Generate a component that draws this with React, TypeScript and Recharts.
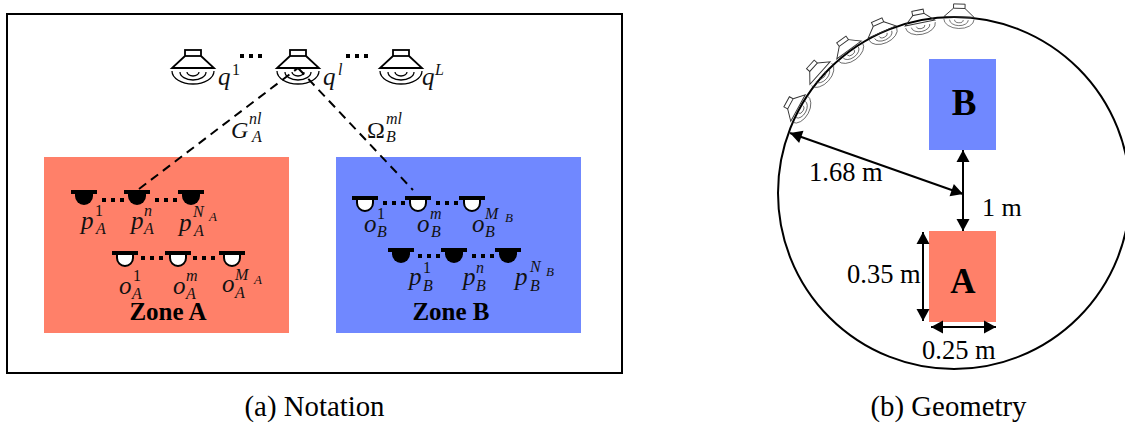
import { ReferenceArea, ReferenceDot, ReferenceLine, Scatter, ScatterChart, XAxis, YAxis } from 'recharts';

const WIDTH = 1125;
const HEIGHT = 428;
const SERIF = '"Liberation Serif", serif';

// the whole figure is plotted in a 1125 x 428 data space, y going down
const FRAME = { x1: 7, x2: 622, y1: 14, y2: 373 };
const ZONES = [
  { x1: 44, x2: 289, y1: 157, y2: 333, fill: '#ff8069' },
  { x1: 336, x2: 581, y1: 157, y2: 333, fill: '#7088ff' },
  { x1: 929, x2: 996, y1: 59, y2: 150, fill: '#7088ff' },
  { x1: 929, x2: 996, y1: 231, y2: 322, fill: '#ff8069' },
];
const RING = { x: 954, y: 193 };

const TOP_SPEAKERS = [
  { x: 193, y: 68 },
  { x: 298, y: 68 },
  { x: 401, y: 68 },
];
const RING_SPEAKERS = [
  { x: 959, y: 17 },
  { x: 920, y: 23 },
  { x: 882, y: 32 },
  { x: 849, y: 50 },
  { x: 820, y: 73 },
  { x: 798, y: 108 },
];
const FILLED_MICS = [
  { x: 84, y: 192 },
  { x: 137, y: 192 },
  { x: 191, y: 192 },
  { x: 401, y: 250 },
  { x: 454, y: 250 },
  { x: 508, y: 250 },
];
const OPEN_MICS = [
  { x: 125, y: 253 },
  { x: 178, y: 253 },
  { x: 232, y: 253 },
  { x: 365, y: 198 },
  { x: 418, y: 198 },
  { x: 472, y: 198 },
];

const DOT_RUNS = [
  [240, 56, 264, 56],
  [346, 56, 370, 56],
  [102, 200, 127, 200],
  [155, 200, 180, 200],
  [141, 258, 167, 258],
  [193, 258, 218, 258],
  [383, 203, 407, 203],
  [436, 203, 460, 203],
  [418, 256, 443, 256],
  [472, 256, 496, 256],
];
const DASHED_LINKS = [
  [139, 189, 298, 68],
  [298, 68, 413, 190],
];
const ARROWS = [
  [790, 133, 963, 194],
  [963, 150, 963, 231],
  [923, 232, 923, 321],
  [931, 327, 996, 327],
];

// each label: base letter, then its scripts as [x, y, text, level], level 1 = script, 2 = script of a script
const MATH_LABELS = [
  { x: 218, y: 85, text: 'q', scripts: [[232, 75, '1', 1]] },
  { x: 323, y: 85, text: 'q', scripts: [[338, 75, 'l', 1]] },
  { x: 422, y: 85, text: 'q', scripts: [[435, 75, 'L', 1]] },
  { x: 231, y: 138, text: 'G', scripts: [[249, 124, 'nl', 1], [252, 142, 'A', 1]] },
  { x: 367, y: 138, text: 'Ω', scripts: [[386, 124, 'ml', 1], [386, 142, 'B', 1]] },

  { x: 81, y: 229, text: 'p', scripts: [[95, 216, '1', 1], [96, 234, 'A', 1]] },
  { x: 131, y: 229, text: 'p', scripts: [[144, 216, 'n', 1], [144, 234, 'A', 1]] },
  { x: 179, y: 231, text: 'p', scripts: [[193, 217, 'N', 1], [209, 221, 'A', 2], [194, 236, 'A', 1]] },

  { x: 119, y: 294, text: 'o', scripts: [[133, 281, '1', 1], [132, 299, 'A', 1]] },
  { x: 173, y: 294, text: 'o', scripts: [[186, 281, 'm', 1], [186, 299, 'A', 1]] },
  { x: 222, y: 292, text: 'o', scripts: [[235, 280, 'M', 1], [254, 284, 'A', 2], [235, 298, 'A', 1]] },

  { x: 364, y: 232, text: 'o', scripts: [[377, 219, '1', 1], [377, 237, 'B', 1]] },
  { x: 417, y: 232, text: 'o', scripts: [[430, 219, 'm', 1], [431, 237, 'B', 1]] },
  { x: 472, y: 232, text: 'o', scripts: [[485, 219, 'M', 1], [505, 222, 'B', 2], [485, 237, 'B', 1]] },

  { x: 409, y: 285, text: 'p', scripts: [[423, 273, '1', 1], [423, 291, 'B', 1]] },
  { x: 463, y: 285, text: 'p', scripts: [[476, 273, 'n', 1], [476, 291, 'B', 1]] },
  { x: 515, y: 285, text: 'p', scripts: [[530, 272, 'N', 1], [546, 276, 'B', 2], [530, 291, 'B', 1]] },
];

const PLAIN_LABELS = [
  { x: 168, y: 320, text: 'Zone A', size: 25, bold: true, anchor: 'middle' },
  { x: 451, y: 320, text: 'Zone B', size: 25, bold: true, anchor: 'middle' },
  { x: 964, y: 115, text: 'B', size: 37, bold: true, anchor: 'middle' },
  { x: 963, y: 293, text: 'A', size: 35, bold: true, anchor: 'middle' },
  { x: 809, y: 181, text: '1.68 m', size: 26.5, anchor: 'start' },
  { x: 982, y: 216, text: '1 m', size: 26, anchor: 'start' },
  { x: 847, y: 283, text: '0.35 m', size: 26.5, anchor: 'start' },
  { x: 922, y: 359, text: '0.25 m', size: 26.5, anchor: 'start' },
  { x: 314.5, y: 416, text: '(a) Notation', size: 28.8, anchor: 'middle' },
  { x: 948.5, y: 416, text: '(b) Geometry', size: 28.8, anchor: 'middle' },
];

const ringAngle = (p: { x: number; y: number }) =>
  (Math.atan2(p.x - RING.x, RING.y - p.y) * 180) / Math.PI;

const speakerShape = (scale: number, color: string, width: number) => (props: any) => {
  const { cx, cy, payload } = props;
  const angle = scale < 1 ? ringAngle(payload) : 0;
  return (
    <g
      transform={`translate(${cx} ${cy}) rotate(${angle}) scale(${scale})`}
      fill="none"
      stroke={color}
      strokeWidth={width}
    >
      <rect x={-8} y={-18} width={16} height={6} />
      <path d="M-8 -12 L-21 0 L21 0 L8 -12" />
      <g strokeWidth={width * 0.7}>
        <path d="M-21 3 A21 13 0 0 0 21 3" />
        <path d="M-13 4 A13 8 0 0 0 13 4" />
        <path d="M-6 4 A6 4 0 0 0 6 4" />
      </g>
    </g>
  );
};

const filledMic = ({ cx, cy }: any) => (
  <g transform={`translate(${cx} ${cy})`}>
    <path d="M-9 0 L-9 4 A9 9 0 0 0 9 4 L9 0 Z" fill="#000" />
    <rect x={-13} y={-2} width={26} height={4} fill="#000" />
  </g>
);

const openMic = ({ cx, cy }: any) => (
  <g transform={`translate(${cx} ${cy})`}>
    <path d="M-8 0 L-8 5 A8 8 0 0 0 8 5 L8 0 Z" fill="#fff" stroke="#000" strokeWidth={2} />
    <rect x={-13} y={-2} width={26} height={4} fill="#000" />
  </g>
);

const mathLabel = ({ cx, cy, payload }: any) => {
  const capital = payload.text === 'G' || payload.text === 'Ω';
  return (
    <text x={cx} y={cy} fontFamily={SERIF} fontSize={capital ? 24 : 25} fontStyle="italic" fill="#111">
      <tspan fontStyle={payload.text === 'Ω' ? 'normal' : 'italic'}>{payload.text}</tspan>
      {payload.scripts.map(([x, y, text, level]: any) => (
        <tspan
          key={`${x}-${y}`}
          x={cx + x - payload.x}
          y={cy + y - payload.y}
          fontSize={level === 2 ? 13 : 16}
          fontStyle={text === '1' ? 'normal' : 'italic'}
        >
          {text}
        </tspan>
      ))}
    </text>
  );
};

const plainLabel = ({ cx, cy, payload }: any) => (
  <text
    x={cx}
    y={cy}
    fontFamily={SERIF}
    fontSize={payload.size}
    fontWeight={payload.bold ? 'bold' : 'normal'}
    textAnchor={payload.anchor}
    fill="#000"
  >
    {payload.text}
  </text>
);

// one point per arrow tip, pointing away from the other end of its arrow
const ARROW_TIPS = ARROWS.flatMap(([x1, y1, x2, y2]) => [
  { x: x1, y: y1, fromX: x2, fromY: y2 },
  { x: x2, y: y2, fromX: x1, fromY: y1 },
]);

const arrowHead = ({ cx, cy, payload }: any) => {
  const angle = (Math.atan2(payload.y - payload.fromY, payload.x - payload.fromX) * 180) / Math.PI;
  return <path transform={`translate(${cx} ${cy}) rotate(${angle})`} d="M0 0 L-12 -6.5 L-12 6.5 Z" fill="#000" />;
};

export default function App() {
  return (
    <div style={{ position: 'absolute', left: 0, top: 0, background: '#fff' }}>
      <ScatterChart width={WIDTH} height={HEIGHT} margin={{ top: 0, right: 0, bottom: 0, left: 0 }}>
        <XAxis type="number" dataKey="x" domain={[0, WIDTH]} hide />
        <YAxis type="number" dataKey="y" domain={[0, HEIGHT]} reversed hide />

        <ReferenceArea {...FRAME} fill="none" stroke="#000" strokeWidth={2} />
        {ZONES.map((z) => (
          <ReferenceArea
            key={`${z.x1}-${z.y1}`}
            x1={z.x1}
            x2={z.x2}
            y1={z.y1}
            y2={z.y2}
            fill={z.fill}
            fillOpacity={1}
            stroke="none"
          />
        ))}
        <ReferenceDot x={RING.x} y={RING.y} r={176} fill="none" stroke="#000" strokeWidth={2} />

        {DASHED_LINKS.map(([x1, y1, x2, y2]) => (
          <ReferenceLine
            key={`${x1}-${y1}`}
            segment={[{ x: x1, y: y1 }, { x: x2, y: y2 }]}
            stroke="#000"
            strokeWidth={2}
            strokeDasharray="9 6"
          />
        ))}
        {DOT_RUNS.map(([x1, y1, x2, y2]) => (
          <ReferenceLine
            key={`${x1}-${y1}`}
            segment={[{ x: x1, y: y1 }, { x: x2, y: y2 }]}
            stroke="#000"
            strokeWidth={4}
            strokeDasharray="4 5"
          />
        ))}
        {ARROWS.map(([x1, y1, x2, y2]) => (
          <ReferenceLine
            key={`${x1}-${y1}`}
            segment={[{ x: x1, y: y1 }, { x: x2, y: y2 }]}
            stroke="#000"
            strokeWidth={2}
          />
        ))}

        <Scatter data={TOP_SPEAKERS} shape={speakerShape(1, '#000', 1.8)} isAnimationActive={false} />
        <Scatter data={RING_SPEAKERS} shape={speakerShape(0.72, '#333', 1.3)} isAnimationActive={false} />
        <Scatter data={FILLED_MICS} shape={filledMic} isAnimationActive={false} />
        <Scatter data={OPEN_MICS} shape={openMic} isAnimationActive={false} />
        <Scatter data={ARROW_TIPS} shape={arrowHead} isAnimationActive={false} />
        <Scatter data={MATH_LABELS} shape={mathLabel} isAnimationActive={false} />
        <Scatter data={PLAIN_LABELS} shape={plainLabel} isAnimationActive={false} />
      </ScatterChart>
    </div>
  );
}
